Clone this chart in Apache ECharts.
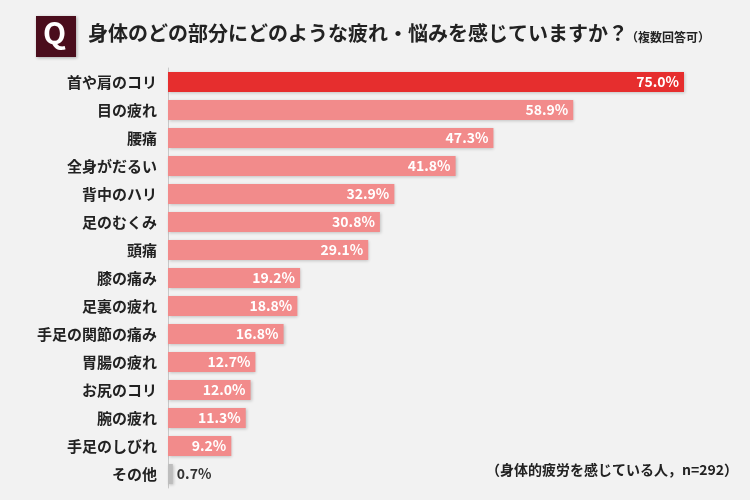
<!DOCTYPE html>
<html>
<head>
<meta charset="utf-8">
<script src="https://cdn.jsdelivr.net/npm/echarts@6/dist/echarts.min.js"></script>
<style>
  html, body { margin: 0; padding: 0; background: #f2f2f2; }
  #chart { width: 750px; height: 500px; }
</style>
</head>
<body>
<div id="chart"></div>
<script>
var categories = ["首や肩のコリ", "目の疲れ", "腰痛", "全身がだるい", "背中のハリ", "足のむくみ", "頭痛",
  "膝の痛み", "足裏の疲れ", "手足の関節の痛み", "胃腸の疲れ", "お尻のコリ", "腕の疲れ", "手足のしびれ", "その他"];
var values = [75.0, 58.9, 47.3, 41.8, 32.9, 30.8, 29.1, 19.2, 18.8, 16.8, 12.7, 12.0, 11.3, 9.2, 0.7];

var FONT = "'Noto Sans CJK JP', sans-serif";

var barData = values.map(function (v, i) {
  var color = "#f28b8b";
  if (i === 0) color = "#e62e2e";
  if (categories[i] === "その他") color = "#bdbdbd";
  var item = { value: v, itemStyle: { color: color } };
  if (v < 5) {
    item.label = { position: "right", color: "#333", distance: 4 };
  }
  return item;
});

var chart = echarts.init(document.getElementById("chart"));
chart.setOption({
  backgroundColor: "#f2f2f2",
  animation: false,
  textStyle: { fontFamily: FONT },
  graphic: [
    { type: "rect", left: 36, top: 16, shape: { width: 40, height: 41 },
      style: { fill: "#4a0d1c", shadowBlur: 3, shadowColor: "rgba(0,0,0,0.3)", shadowOffsetX: 1, shadowOffsetY: 1 } },
    { type: "text", left: 43, top: 18, style: { text: "Q", fill: "#fff", font: "bold 30px " + FONT } },
    { type: "text", left: 88, top: 23, style: { text: "身体のどの部分にどのような疲れ・悩みを感じていますか？", fill: "#222", font: "bold 20px " + FONT } },
    { type: "text", left: 626, top: 31, style: { text: "（複数回答可）", fill: "#222", font: "bold 12px " + FONT } },
    { type: "text", right: 12, top: 463, style: { text: "（身体的疲労を感じている人，n=292）", fill: "#222", font: "bold 14px " + FONT } }
  ],
  grid: { left: 168, top: 68, width: 516, height: 420, containLabel: false },
  xAxis: { type: "value", min: 0, max: 75, show: false },
  yAxis: {
    type: "category",
    data: categories,
    inverse: true,
    axisLine: { lineStyle: { color: "#c8c8c8", width: 1 } },
    axisTick: { show: false },
    axisLabel: { color: "#222", fontSize: 15, fontWeight: "bold", margin: 11, fontFamily: FONT }
  },
  series: [{
    type: "bar",
    data: barData,
    barWidth: 20,
    itemStyle: { shadowBlur: 3, shadowColor: "rgba(0,0,0,0.2)", shadowOffsetX: 1, shadowOffsetY: 1 },
    label: {
      show: true,
      position: "insideRight",
      distance: 5,
      color: "#fff",
      fontSize: 14,
      fontWeight: "bold",
      fontFamily: FONT,
      formatter: function (p) { return p.value.toFixed(1) + "%"; }
    }
  }]
});
</script>
</body>
</html>
